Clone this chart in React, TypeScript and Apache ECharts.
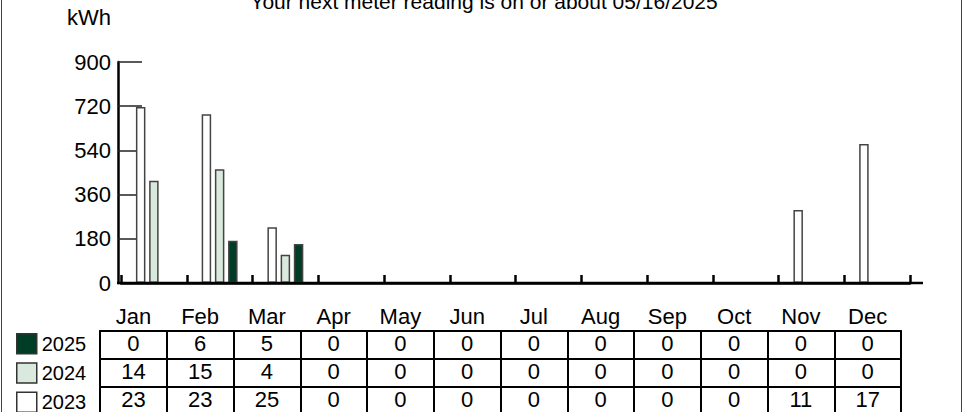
import React, { useEffect, useRef } from "react";
import * as echarts from "echarts";

const months = ["Jan", "Feb", "Mar", "Apr", "May", "Jun", "Jul", "Aug", "Sep", "Oct", "Nov", "Dec"];
const years = ["2023", "2024", "2025"];
const legendOrder = ["2025", "2024", "2023"];
const kwh2023 = [717, 687, 227, 0, 0, 0, 0, 0, 0, 0, 297, 566];
const kwh2024 = [416, 463, 115, 0, 0, 0, 0, 0, 0, 0, 0, 0];
const kwh2025 = [0, 172, 159, 0, 0, 0, 0, 0, 0, 0, 0, 0];
const table2025 = [0, 6, 5, 0, 0, 0, 0, 0, 0, 0, 0, 0];
const table2024 = [14, 15, 4, 0, 0, 0, 0, 0, 0, 0, 0, 0];
const table2023 = [23, 23, 25, 0, 0, 0, 0, 0, 0, 0, 11, 17];
const yTicks = [0, 180, 360, 540, 720, 900];
const titleText = "Your next meter reading is on or about 05/16/2025";
const unitLabel = "kWh";

const colors: Record<string, string> = { "2023": "#ffffff", "2024": "#d9e9de", "2025": "#003d26" };
const FONT = "'Liberation Sans', Arial, sans-serif";
const ROW_H = 28.1;

export default function App() {
  const ref = useRef<HTMLDivElement>(null);
  useEffect(() => {
    if (!ref.current) return;
    const chart = echarts.init(ref.current, undefined, { renderer: "svg" });
    const seriesData = [kwh2023, kwh2024, kwh2025];
    const tableRows = [table2025, table2024, table2023];
    const rowAxis = (row: number[], i: number) => ({
      type: "category",
      gridIndex: 1,
      position: "bottom",
      offset: i * ROW_H,
      data: months,
      boundaryGap: true,
      axisLine: { show: true, lineStyle: { color: "#000", width: 2 } },
      axisTick: { show: true, interval: 0, length: ROW_H, alignWithLabel: false, lineStyle: { color: "#000", width: 2 } },
      axisLabel: {
        show: true,
        interval: 0,
        margin: 13,
        verticalAlign: "middle",
        fontSize: 22,
        color: "#000",
        fontFamily: FONT,
        formatter: (_v: string, idx: number) => String(row[idx]),
      },
      splitLine: { show: false },
    });
    const option: any = {
      animation: false,
      textStyle: { fontFamily: FONT },
      title: {
        text: titleText,
        left: "center",
        top: -14,
        textStyle: { fontSize: 21, fontWeight: "normal", color: "#000", fontFamily: FONT },
      },
      legend: legendOrder.map((y, i) => ({
        data: [y],
        orient: "vertical",
        left: 16,
        top: 333 + i * 29.2,
        padding: 0,
        itemWidth: 20,
        itemHeight: 20,
        icon: "rect",
        itemStyle: { borderColor: "#333", borderWidth: 1.5 },
        textStyle: { fontSize: 20, color: "#000", fontFamily: FONT },
        selectedMode: false,
      })),
      grid: [
        { left: 121, right: 58, top: 62, height: 221, containLabel: false },
        { left: 100, right: 67, top: 300, height: 30.5, containLabel: false },
      ],
      xAxis: [
        {
          type: "category",
          gridIndex: 0,
          data: months,
          boundaryGap: true,
          axisLine: { show: true, lineStyle: { color: "#000", width: 2.5 } },
          axisTick: { show: true, inside: true, interval: 0, length: 8, lineStyle: { color: "#000", width: 2.5 } },
          axisLabel: { show: false },
          splitLine: { show: false },
        },
        {
          type: "category",
          gridIndex: 1,
          position: "bottom",
          offset: -14.5,
          data: months,
          axisLine: { show: false },
          axisTick: { show: false },
          axisLabel: { show: true, interval: 0, margin: 0, verticalAlign: "middle", fontSize: 22, color: "#000", fontFamily: FONT },
        },
        ...tableRows.map((r, i) => rowAxis(r, i)),
      ],
      yAxis: [
        {
          type: "value",
          gridIndex: 0,
          min: 0,
          max: 900,
          interval: 180,
          offset: 3,
          name: unitLabel,
          nameLocation: "end",
          nameGap: 45,
          nameTextStyle: { fontSize: 22, color: "#000", align: "right", verticalAlign: "middle", padding: [0, 7, 0, 0], fontFamily: FONT },
          axisLine: { show: true, lineStyle: { color: "#000", width: 2.5 } },
          axisTick: { show: true, inside: true, length: 24, lineStyle: { color: "#222", width: 1.5 } },
          axisLabel: {
            fontSize: 22,
            color: "#000",
            margin: 7,
            fontFamily: FONT,
            formatter: (v: number) => (yTicks.indexOf(v) >= 0 ? String(v) : ""),
          },
          splitLine: { show: false },
        },
        { type: "value", gridIndex: 1, show: false },
      ],
      series: years.map((y, i) => ({
        name: y,
        type: "bar",
        xAxisIndex: 0,
        yAxisIndex: 0,
        data: seriesData[i],
        barWidth: 9.5,
        barGap: "39%",
        itemStyle: { color: colors[y], borderColor: "#444", borderWidth: 1.5 },
      })),
      graphic: [
        {
          type: "rect",
          shape: { x: 1.5, y: -5, width: 960, height: 430 },
          style: { fill: "none", stroke: "#444", lineWidth: 1 },
          silent: true,
        },
        {
          type: "line",
          shape: { x1: 117, y1: 283, x2: 923, y2: 283 },
          style: { stroke: "#000", lineWidth: 2.5 },
          z: 10,
          silent: true,
        },
      ],
    };
    chart.setOption(option);
    return () => chart.dispose();
  }, []);
  return <div ref={ref} style={{ position: "absolute", left: 0, top: 0, width: 968, height: 412 }} />;
}
